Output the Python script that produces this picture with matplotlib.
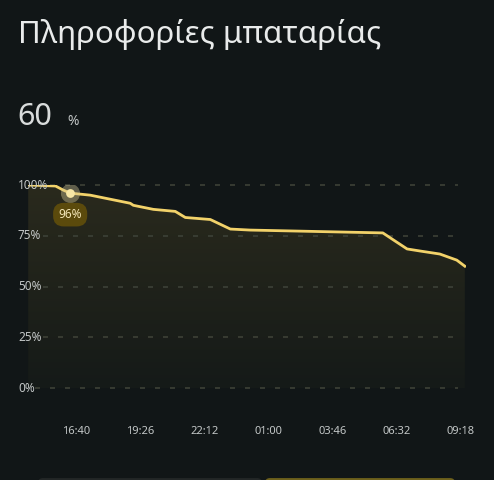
import numpy as np
import matplotlib.pyplot as plt
from matplotlib.patches import FancyBboxPatch

plt.rcParams['font.family'] = ['Noto Sans', 'DejaVu Sans']

title = 'Πληροφορίες μπαταρίας'
current_level = '60'

times = ['14:35', '15:46', '16:06', '16:24', '17:16', '18:08', '19:00', '19:08',
         '20:00', '20:57', '21:23', '22:28', '23:20', '00:11', '05:56', '06:27',
         '06:59', '07:32', '08:24', '09:08', '09:29']
levels = [100, 99.5, 97.5, 96, 95, 93, 91, 90, 88, 87, 84, 83, 78.3, 77.8, 76.4,
          72.5, 68.5, 67.5, 66, 63, 60]

tick_times = ['16:40', '19:26', '22:12', '01:00', '03:46', '06:32', '09:18']
y_ticks = [0, 25, 50, 75, 100]

marker_time = '16:24'
marker_level = 96


def to_min(t):
    h, m = map(int, t.split(':'))
    v = h * 60 + m
    if h < 12:
        v += 1440
    return v


x = np.array([to_min(t) for t in times])
y = np.array(levels)

W, H = 494, 480
bg = '#111617'
fig = plt.figure(figsize=(W / 100, H / 100), dpi=100, facecolor=bg)

# plot area in pixels
left, right, top, bottom = 28, 466, 185, 388
ax = fig.add_axes([left / W, 1 - bottom / H, (right - left) / W, (bottom - top) / H])
ax.set_facecolor('none')
ax.set_xlim(to_min('14:35') - 0.5, x[-1] + 3)
ax.set_ylim(0, 100)
ax.axis('off')

# gradient fill under the curve
poly = ax.fill_between(x, y, 0, color='none')
grad = np.linspace(0, 1, 256).reshape(-1, 1)
cmap = plt.matplotlib.colors.LinearSegmentedColormap.from_list('g', ['#151a18', '#2a2a1d'])
img = ax.imshow(grad, extent=[x[0], x[-1], 0, 100], origin='lower', cmap=cmap,
                aspect='auto', zorder=1)
img.set_clip_path(poly.get_paths()[0], transform=ax.transData)

# dashed grid
for v in y_ticks:
    lab = f'{v}%'
    start = 18 + 7.6 * len(lab) + 2
    x0 = ax.transData.inverted().transform((start, 0))[0]
    x1 = ax.transData.inverted().transform((458, 0))[0]
    ax.plot([x0, x1], [v, v], color='#3d4137', lw=1.2, dashes=(3, 6), zorder=2, clip_on=False)
    fig.text(18 / W, 1 - (bottom - v * (bottom - top) / 100) / H, lab, color='#c3c7c7',
             fontsize=8.5, ha='left', va='center')

ax.plot(x, y, color='#f2d26a', lw=2, zorder=4, solid_joinstyle='round')

# selected point
mx = to_min(marker_time)
ax.scatter([mx], [marker_level], s=190, color='#d8cc9a', alpha=0.4, zorder=5, linewidths=0)
ax.scatter([mx], [marker_level], s=40, color='#f6e6a6', zorder=6, linewidths=0)
ax.annotate(f'{marker_level}%', (mx, marker_level), xytext=(0, -15.5), textcoords='offset points',
            ha='center', va='center', fontsize=8.5, fontweight='bold', color='#f3e6b8', zorder=7,
            bbox=dict(boxstyle='round,pad=0.45,rounding_size=0.9', fc='#5b4a0c', ec='none'))

for t in tick_times:
    px = ax.transData.transform((to_min(t), 0))[0]
    fig.text(px / W, 1 - 431 / H, t, color='#c3c7c7', fontsize=8, ha='center', va='center')

fig.text(18 / W, 1 - 35 / H, title, color='#e9ebeb', fontsize=22.5, ha='left', va='center')
fig.text(17 / W, 1 - 125 / H, current_level, color='#d9dcdc', fontsize=22, ha='left', va='baseline')
fig.text(67 / W, 1 - 125 / H, '%', color='#c3c7c7', fontsize=10, ha='left', va='baseline')

# partially visible buttons at the bottom
fig.patches.append(FancyBboxPatch((38 / W, -0.02), 224 / W, 0.024, boxstyle='round,pad=0,rounding_size=0.01',
                                  transform=fig.transFigure, fc='#232727', ec='none'))
fig.patches.append(FancyBboxPatch((265 / W, -0.02), 190 / W, 0.024, boxstyle='round,pad=0,rounding_size=0.01',
                                  transform=fig.transFigure, fc='#6e611c', ec='none'))

fig.savefig('out.png', dpi=100, facecolor=bg)
